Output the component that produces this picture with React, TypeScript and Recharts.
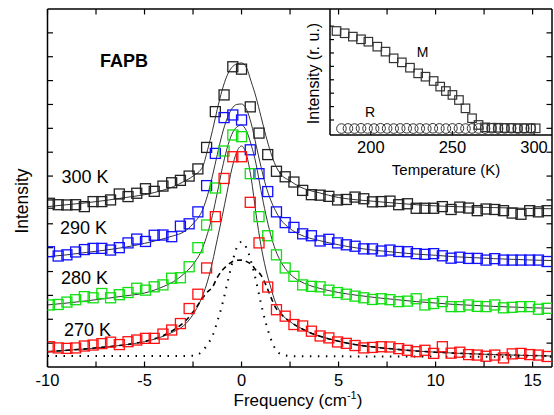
import React from "react";
import { ComposedChart, ScatterChart, Scatter, Line, XAxis, YAxis } from "recharts";

const FONT = '"Liberation Sans", Arial, Helvetica, sans-serif';

// main panel: measured frequencies (cm-1) of the data points
const FREQ = [
  -9.9, -9.45, -9.0, -8.55, -8.1, -7.65, -7.2, -6.75, -6.3, -5.85, -5.4, -4.95, -4.5, -4.05, -3.6, -3.15,
  -2.7, -2.25, -1.8, -1.35, -0.9, -0.45, 0, 0.45, 0.9, 1.35, 1.8, 2.25, 2.7, 3.15, 3.6, 4.05, 4.5, 4.95,
  5.4, 5.85, 6.3, 6.75, 7.2, 7.65, 8.1, 8.55, 9.0, 9.45, 9.9, 10.35, 10.8, 11.25, 11.7, 12.15, 12.6,
  13.05, 13.5, 13.95, 14.4, 14.85, 15.3, 15.75,
];

// intensities (offset, arbitrary units)
const S300 = [
  6.86, 6.8, 6.79, 6.8, 6.72, 6.93, 6.93, 7.0, 7.25, 7.14, 7.28, 7.47, 7.36, 7.58, 7.72, 7.82, 8.0, 8.3,
  9.2, 10.7, 11.4, 12.58, 12.48, 10.9, 9.8, 8.9, 8.2, 7.97, 7.75, 7.4, 7.22, 7.2, 7.15, 7.0, 7.02, 7.12,
  7.05, 6.92, 6.93, 6.95, 6.8, 6.84, 6.65, 6.65, 6.65, 6.72, 6.6, 6.7, 6.66, 6.55, 6.62, 6.6, 6.55, 6.45,
  6.4, 6.55, 6.5, 6.55,
];
const S290 = [
  4.83, 4.65, 4.7, 4.82, 4.92, 4.97, 4.97, 4.9, 5.0, 5.2, 5.36, 5.26, 5.52, 5.53, 5.46, 5.9, 6.0, 6.5,
  7.6, 8.95, 10.45, 10.56, 10.35, 9.1, 8.1, 7.35, 6.5, 6.05, 5.85, 5.58, 5.5, 5.28, 5.35, 5.2, 5.12, 5.06,
  4.95, 4.95, 4.86, 4.9, 4.84, 4.83, 4.75, 4.72, 4.75, 4.66, 4.56, 4.6, 4.55, 4.55, 4.48, 4.54, 4.48, 4.48,
  4.48, 4.48, 4.48, 4.42,
];
const S280 = [
  2.6, 2.62, 2.72, 2.82, 2.95, 2.9, 3.08, 2.9, 3.03, 3.12, 3.3, 3.22, 3.36, 3.44, 3.72, 3.74, 4.2, 5.0,
  5.95, 7.5, 9.05, 9.72, 9.65, 8.1, 6.3, 5.5, 4.7, 4.15, 3.8, 3.44, 3.38, 3.36, 3.22, 3.12, 3.05, 2.97,
  2.9, 2.83, 2.86, 2.82, 2.74, 2.76, 2.86, 2.6, 2.66, 2.74, 2.53, 2.53, 2.6, 2.54, 2.53, 2.6, 2.48, 2.5,
  2.53, 2.53, 2.42, 2.46,
];
const S270 = [
  0.85, 0.8, 0.78, 0.8, 0.88, 0.92, 0.98, 1.04, 0.94, 1.06, 1.13, 1.2, 1.2, 1.38, 1.55, 1.82, 2.45, 3.05,
  4.15, 6.3, 7.9, 8.81, 8.81, 6.9, 5.2, 3.35, 2.4, 2.13, 1.78, 1.72, 1.5, 1.3, 1.22, 1.05, 0.99, 0.9,
  0.8, 0.82, 0.85, 0.84, 0.77, 0.7, 0.64, 0.7, 0.57, 0.85, 0.58, 0.62, 0.52, 0.5, 0.45, 0.5, 0.38, 0.55,
  0.57, 0.52, 0.5, 0.44,
];

// fitted curves, read along this grid
const FIT_FREQ = [
  -10, -9, -8, -7, -6, -5, -4, -3.5, -3, -2.5, -2, -1.75, -1.5, -1.25, -1, -0.75, -0.5, -0.25, 0, 0.25,
  0.5, 0.75, 1, 1.25, 1.5, 1.75, 2, 2.5, 3, 3.5, 4, 5, 6, 7, 8, 9, 10, 11, 12, 13, 14, 15, 16,
];
const FIT300 = [
  6.72, 6.8, 6.88, 6.98, 7.1, 7.22, 7.42, 7.56, 7.76, 8.0, 8.4, 9.1, 9.9, 10.8, 11.6, 12.2, 12.55, 12.7,
  12.74, 12.55, 11.95, 11.3, 10.5, 9.7, 9.0, 8.45, 8.1, 7.8, 7.55, 7.4, 7.3, 7.1, 7.0, 6.93, 6.86, 6.8,
  6.75, 6.72, 6.7, 6.68, 6.66, 6.64, 6.63,
];
const FIT290 = [
  4.62, 4.7, 4.8, 4.9, 5.02, 5.18, 5.38, 5.5, 5.65, 6.0, 6.6, 7.2, 8.0, 8.9, 9.75, 10.4, 10.82, 11.0,
  11.02, 10.8, 10.2, 9.3, 8.4, 7.6, 7.0, 6.55, 6.2, 5.8, 5.55, 5.4, 5.3, 5.12, 4.98, 4.88, 4.8, 4.73,
  4.68, 4.62, 4.58, 4.54, 4.51, 4.48, 4.46,
];
const FIT280 = [
  2.6, 2.68, 2.77, 2.87, 2.98, 3.1, 3.38, 3.58, 3.88, 4.3, 5.0, 5.6, 6.35, 7.3, 8.3, 9.15, 9.75, 10.05,
  10.14, 9.9, 9.3, 8.5, 7.4, 6.4, 5.55, 4.9, 4.45, 3.9, 3.6, 3.42, 3.3, 3.12, 3.0, 2.9, 2.82, 2.74,
  2.68, 2.62, 2.58, 2.54, 2.51, 2.48, 2.46,
];
const FIT270 = [
  0.64, 0.7, 0.76, 0.84, 0.93, 1.06, 1.3, 1.48, 1.72, 2.2, 3.0, 3.6, 4.4, 5.35, 6.3, 7.3, 8.3, 9.0,
  9.26, 8.9, 7.9, 6.4, 5.1, 4.1, 3.35, 2.7, 2.3, 1.9, 1.65, 1.45, 1.3, 1.08, 0.92, 0.82, 0.74, 0.67,
  0.62, 0.58, 0.55, 0.52, 0.5, 0.48, 0.46,
];
const BROAD270 = [
  0.64, 0.7, 0.76, 0.84, 0.93, 1.07, 1.33, 1.55, 1.85, 2.3, 2.9, 3.15, 3.35, 3.75, 4.05, 4.25, 4.4, 4.47,
  4.48, 4.42, 4.3, 4.05, 3.85, 3.45, 2.95, 2.5, 2.25, 1.9, 1.65, 1.45, 1.3, 1.08, 0.92, 0.82, 0.74, 0.67,
  0.62, 0.58, 0.55, 0.52, 0.5, 0.48, 0.46,
];
const NARROW270 = [
  0.46, 0.46, 0.46, 0.46, 0.46, 0.46, 0.46, 0.46, 0.46, 0.47, 0.68, 0.95, 1.3, 1.9, 2.6, 3.45, 4.3, 5.0,
  5.24, 5.0, 4.4, 3.6, 2.67, 1.85, 1.2, 0.75, 0.55, 0.46, 0.45, 0.45, 0.45, 0.45, 0.44, 0.44, 0.44, 0.44,
  0.44, 0.43, 0.43, 0.43, 0.43, 0.43, 0.43,
];

const X_TICKS = [-10, -7.5, -5, -2.5, 0, 2.5, 5, 7.5, 10, 12.5, 15];
const Y_TICKS = [1, 2, 3, 4, 5, 6, 7, 8, 9, 10, 11, 12, 13, 14];

// inset: intensity of the M and R modes vs temperature
const M_TEMP = [
  179, 184, 189, 194, 198.5, 204, 209, 214, 219, 224, 229, 233.5, 238.5, 242.5, 246, 250, 254, 258, 262,
  266, 270, 274, 278, 282, 286, 290, 294, 298, 301,
];
const M_INT = [
  7.64, 7.47, 7.22, 7.02, 6.84, 6.47, 6.1, 5.6, 5.3, 4.9, 4.48, 4.23, 3.91, 3.49, 3.16, 2.87, 2.49, 1.87,
  1.13, 0.63, 0.45, 0.42, 0.42, 0.4, 0.4, 0.38, 0.38, 0.38, 0.38,
];
const R_TEMP = [
  182, 186, 190, 194, 198, 202, 206, 210, 214, 218, 222, 226, 230, 234, 238, 242, 246, 250, 254, 258,
  262, 266, 270, 274, 278, 282, 286, 290, 294, 298,
];
const R_INT = [
  0.36, 0.37, 0.36, 0.38, 0.37, 0.36, 0.38, 0.37, 0.36, 0.37, 0.38, 0.36, 0.37, 0.36, 0.38, 0.37, 0.36,
  0.37, 0.38, 0.36, 0.37, 0.37, 0.36, 0.38, 0.36, 0.37, 0.38, 0.36, 0.37, 0.37,
];
const INSET_X_TICKS = [200, 250, 300];
const INSET_Y_TICKS = [1, 2, 3, 4, 5, 6, 7, 8];

const pts = (xs: number[], ys: number[]) => xs.map((f, i) => ({ f, v: ys[i] }));
const tpts = (xs: number[], ys: number[]) => xs.map((t, i) => ({ t, i: ys[i] }));

const squareShape = (color: string, size: number, sw: number) => (p: any) => {
  if (p.cx == null || p.cy == null) return <g />;
  return (
    <rect
      x={p.cx - size / 2}
      y={p.cy - size / 2}
      width={size}
      height={size}
      fill="none"
      stroke={color}
      strokeWidth={sw}
    />
  );
};

const circleShape = (p: any) => {
  if (p.cx == null || p.cy == null) return <g />;
  return <circle cx={p.cx} cy={p.cy} r={4.8} fill="none" stroke="#333" strokeWidth={1} />;
};

const axisLine = { stroke: "#000", strokeWidth: 1.5 };
const tickLine = { stroke: "#000", strokeWidth: 1.2 };
const tickText = { fill: "#000", fontSize: 16.5, fontFamily: FONT };
const noLabel = () => "";

// bottom ticks of the main panel: inward tick mark plus a label every 5 cm-1
const TICK_GAP = 7.5;
const BottomTick = (props: any) => {
  const { x, y, payload } = props;
  const v = payload.value;
  const axisY = y - TICK_GAP;
  return (
    <g>
      <line x1={x} x2={x} y1={axisY} y2={axisY - 5.5} stroke="#000" strokeWidth={1.2} />
      {v % 5 === 0 ? (
        <text x={x} y={y} dy="0.71em" textAnchor="middle" fontSize={16.5} fontFamily={FONT} fill="#000">
          {v}
        </text>
      ) : null}
    </g>
  );
};

const SERIES = [
  { name: "300 K", data: S300, color: "#222222" },
  { name: "290 K", data: S290, color: "#1010ff" },
  { name: "280 K", data: S280, color: "#10e010" },
  { name: "270 K", data: S270, color: "#ff1010" },
];

function MainPanel() {
  return (
    <ComposedChart width={554} height={415} margin={{ top: 9, right: 2, bottom: 0, left: 47.5 }}>
      <XAxis
        xAxisId="b"
        dataKey="f"
        type="number"
        domain={[-10, 16]}
        allowDataOverflow
        ticks={X_TICKS}
        interval={0}
        tickLine={false}
        tickSize={0}
        tickMargin={TICK_GAP}
        height={48}
        axisLine={axisLine}
        tick={BottomTick}
      />
      {/* inward ticks on the other three sides */}
      <XAxis
        xAxisId="t"
        dataKey="f"
        orientation="top"
        mirror
        type="number"
        domain={[-10, 16]}
        allowDataOverflow
        ticks={X_TICKS}
        interval={0}
        tickFormatter={noLabel}
        tickSize={5.5}
        height={10}
        axisLine={axisLine}
        tickLine={tickLine}
      />
      <YAxis
        yAxisId="l"
        dataKey="v"
        mirror
        type="number"
        domain={[0, 15]}
        allowDataOverflow
        ticks={Y_TICKS}
        interval={0}
        tickFormatter={noLabel}
        tickSize={5.5}
        width={10}
        axisLine={axisLine}
        tickLine={tickLine}
      />
      <YAxis
        yAxisId="r"
        dataKey="v"
        orientation="right"
        mirror
        type="number"
        domain={[0, 15]}
        allowDataOverflow
        ticks={Y_TICKS}
        interval={0}
        tickFormatter={noLabel}
        tickSize={5.5}
        width={10}
        axisLine={axisLine}
        tickLine={tickLine}
      />
      {SERIES.map((s) => (
        <Scatter
          key={s.name}
          xAxisId="b"
          yAxisId="l"
          data={pts(FREQ, s.data)}
          dataKey="v"
          shape={squareShape(s.color, 10, 1.3)}
          isAnimationActive={false}
        />
      ))}
      <Line
        xAxisId="t"
        yAxisId="r"
        data={pts(FIT_FREQ, FIT300)}
        dataKey="v"
        type="monotone"
        stroke="#333"
        strokeWidth={1}
        dot={false}
        isAnimationActive={false}
      />
      <Line
        xAxisId="b"
        yAxisId="l"
        data={pts(FIT_FREQ, FIT290)}
        dataKey="v"
        type="monotone"
        stroke="#333"
        strokeWidth={1}
        dot={false}
        isAnimationActive={false}
      />
      <Line
        xAxisId="b"
        yAxisId="l"
        data={pts(FIT_FREQ, FIT280)}
        dataKey="v"
        type="monotone"
        stroke="#333"
        strokeWidth={1}
        dot={false}
        isAnimationActive={false}
      />
      <Line
        xAxisId="b"
        yAxisId="l"
        data={pts(FIT_FREQ, FIT270)}
        dataKey="v"
        type="monotone"
        stroke="#333"
        strokeWidth={1}
        dot={false}
        isAnimationActive={false}
      />
      <Line
        xAxisId="b"
        yAxisId="l"
        data={pts(FIT_FREQ, BROAD270)}
        dataKey="v"
        type="monotone"
        stroke="#000"
        strokeWidth={1.6}
        strokeDasharray="5 4"
        dot={false}
        isAnimationActive={false}
      />
      <Line
        xAxisId="b"
        yAxisId="l"
        data={pts(FIT_FREQ, NARROW270)}
        dataKey="v"
        type="monotone"
        stroke="#000"
        strokeWidth={2}
        strokeDasharray="1.5 6.5"
        dot={false}
        isAnimationActive={false}
      />
    </ComposedChart>
  );
}

function InsetPanel() {
  return (
    <ScatterChart width={554} height={415} margin={{ top: 9, right: 2, bottom: 0, left: 330 }}>
      <XAxis
        xAxisId="a"
        dataKey="t"
        type="number"
        domain={[175, 311]}
        allowDataOverflow
        ticks={INSET_X_TICKS}
        interval={0}
        tickLine={false}
        tickSize={0}
        tickMargin={6}
        height={280}
        axisLine={axisLine}
        tick={tickText}
      />
      <XAxis
        xAxisId="m"
        dataKey="t"
        mirror
        type="number"
        domain={[175, 311]}
        allowDataOverflow
        ticks={INSET_X_TICKS}
        interval={0}
        tickFormatter={noLabel}
        tickSize={4}
        height={10}
        axisLine={false}
        tickLine={tickLine}
      />
      <YAxis
        yAxisId="y"
        dataKey="i"
        mirror
        type="number"
        domain={[-0.12, 9.28]}
        allowDataOverflow
        ticks={INSET_Y_TICKS}
        interval={0}
        tickFormatter={noLabel}
        tickSize={4}
        width={10}
        axisLine={axisLine}
        tickLine={tickLine}
      />
      <Scatter
        xAxisId="a"
        yAxisId="y"
        data={tpts(R_TEMP, R_INT)}
        dataKey="i"
        shape={circleShape}
        isAnimationActive={false}
      />
      <Scatter
        xAxisId="m"
        yAxisId="y"
        data={tpts(M_TEMP, M_INT)}
        dataKey="i"
        shape={squareShape("#333", 8.5, 1.2)}
        isAnimationActive={false}
      />
    </ScatterChart>
  );
}

function Texts() {
  return (
    <svg width={554} height={415} style={{ position: "absolute", left: 0, top: 0, pointerEvents: "none" }}>
      <g fontFamily={FONT} fill="#000">
        <text x={100} y={66.5} fontSize={18} fontWeight="bold">FAPB</text>
        <text x={61.5} y={183} fontSize={18}>300 K</text>
        <text x={60} y={233.5} fontSize={18}>290 K</text>
        <text x={61} y={284} fontSize={18}>280 K</text>
        <text x={64} y={336} fontSize={18}>270 K</text>
        <text x={233.5} y={406} fontSize={17}>
          Frequency (cm<tspan fontSize={11} dy={-7}>-1</tspan>
          <tspan dy={7}>)</tspan>
        </text>
        <text transform="translate(27.5,201) rotate(-90)" fontSize={17.5} textAnchor="middle">
          Intensity
        </text>
        <text x={446} y={175} fontSize={15} textAnchor="middle">Temperature (K)</text>
        <text transform="translate(318.5,73.5) rotate(-90)" fontSize={16} textAnchor="middle">
          Intensity (r. u.)
        </text>
        <text x={422.5} y={56.7} fontSize={14} textAnchor="middle">M</text>
        <text x={370} y={116.7} fontSize={14} textAnchor="middle">R</text>
      </g>
    </svg>
  );
}

export default function App() {
  return (
    <div style={{ position: "absolute", left: 0, top: 0, width: 554, height: 415, background: "#fff" }}>
      <div style={{ position: "absolute", left: 0, top: 0 }}>
        <MainPanel />
      </div>
      <div style={{ position: "absolute", left: 0, top: 0 }}>
        <InsetPanel />
      </div>
      <Texts />
    </div>
  );
}
